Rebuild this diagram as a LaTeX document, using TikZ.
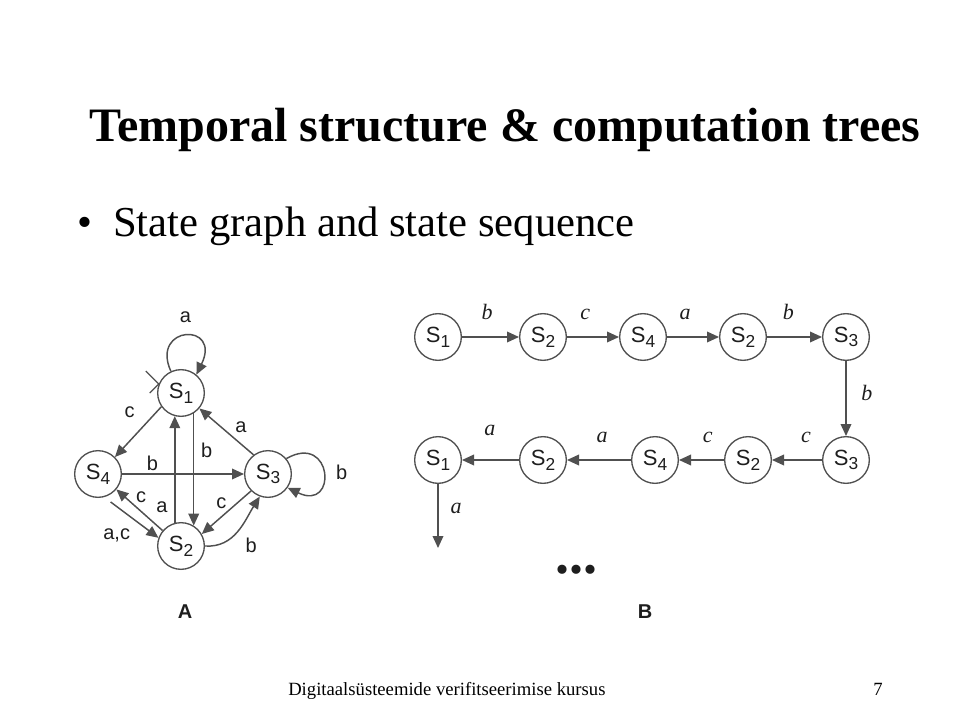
\documentclass[tikz,border=0pt]{standalone}
\usepackage{fontspec}
\setmainfont{Liberation Serif}
\setsansfont{Liberation Sans}
\usetikzlibrary{arrows.meta}
\definecolor{FIG1}{HTML}{505050}
\definecolor{FIG2}{HTML}{1E1E1E}
\newcommand{\stsub}[1]{S\raisebox{-3.5pt}{\fontsize{13}{13}\selectfont #1}}
\tikzstyle{state} = [circle, draw=FIG1, line width=1pt, minimum size=35pt, inner sep=0pt, text=FIG2, font=\sffamily\fontsize{16.5}{16.5}\selectfont]
\tikzstyle{lab} = [inner sep=1pt, text=FIG2, font=\sffamily\fontsize{15}{15}\selectfont]
\tikzstyle{ilab} = [inner sep=1pt, text=FIG2, font=\itshape\fontsize{16.5}{16.5}\selectfont]
\tikzstyle{arrow} = [line width=1.1pt, draw=FIG1, -{Triangle[length=9pt,width=8pt]}]

\begin{document}
\begin{tikzpicture}[x=0.75pt, y=-0.75pt]
\useasboundingbox (0,0) rectangle (960,720);

\node (title) [anchor=base, font=\bfseries\fontsize{36}{36}\selectfont] at (505,142) {Temporal structure \& computation trees};
\node (dot) [anchor=base west, inner sep=0pt, font=\fontsize{32}{32}\selectfont] at (77,237) {\textbullet};
\node (item) [anchor=base west, inner sep=0pt, font=\fontsize{32}{32}\selectfont] at (113,237) {State graph and state sequence};

% A: state graph
\node (a1) [state] at (181,393) {\stsub{1}};
\node (a4) [state] at (98,474) {\stsub{4}};
\node (a3) [state] at (268,474) {\stsub{3}};
\node (a2) [state] at (181,546) {\stsub{2}};

\draw [line width=1pt, draw=FIG1] (a1.158) ++(-13,-13) -- (a1.158) -- ++(-9,9);
\draw [arrow] (a1.115) .. controls (150,325) and (222,322) .. node[lab, above=8pt] {a} (a1.50);
\draw [arrow] (a1.215) -- node[lab, pos=.39, above left=5pt] {c} (a4.45);
\draw [arrow] (a2.105) -- node[lab, pos=.15, left=4pt] {a} (a1.255);
\draw [arrow] (a1.-58.5) -- node[lab, pos=.33, right=4pt] {b} (a2.58.5);
\draw [arrow] (a3.127) -- node[lab, pos=.4, above right=1pt] {a} (a1.-40);
\draw [arrow] (a4) -- node[lab, pos=.25, above=1pt] {b} (a3);
\draw [arrow] (a3.40) .. controls (333,432) and (338,512) .. node[lab, right=8pt] {b} (a3.-35);
\draw [arrow] (a2.140) -- node[lab, pos=.62, above right] {c} (a4.-40);
\draw [arrow, shorten <=6pt] (a4.-75) -- node[lab, pos=.6, below left=3.5pt] {a,c} (a2.160);
\draw [arrow] (a3.-135) -- node[lab, pos=.46, above left] {c} (a2.30);
\draw [arrow] (a2.east) .. controls (235,548) and (245,520) .. node[lab, below right=4pt] {b} (a3.-110);

\node (capa) [font=\sffamily\bfseries\fontsize{15}{15}\selectfont, text=FIG2] at (185,612) {A};

% B: state sequence
\node (b1) [state] at (438,337) {\stsub{1}};
\node (b2) [state] at (543,337) {\stsub{2}};
\node (b3) [state] at (643,337) {\stsub{4}};
\node (b4) [state] at (743,337) {\stsub{2}};
\node (b5) [state] at (846,337) {\stsub{3}};
\node (b6) [state] at (846,460) {\stsub{3}};
\node (b7) [state] at (748,460) {\stsub{2}};
\node (b8) [state] at (655,460) {\stsub{4}};
\node (b9) [state] at (543,460) {\stsub{2}};
\node (b10) [state] at (438,460) {\stsub{1}};
\coordinate (e1) at (438,548);

\draw [arrow] (b1) -- node[ilab, pos=.44, above=11.5pt] {b} (b2);
\draw [arrow] (b2) -- node[ilab, pos=.35, above=11.5pt] {c} (b3);
\draw [arrow] (b3) -- node[ilab, pos=.35, above=11.5pt] {a} (b4);
\draw [arrow] (b4) -- node[ilab, pos=.39, above=11.5pt] {b} (b5);
\draw [arrow] (b5) -- node[ilab, pos=.43, right=10pt] {b} (b6);
\draw [arrow] (b6) -- node[ilab, pos=.32, above=11.5pt] {c} (b7);
\draw [arrow] (b7) -- node[ilab, pos=.36, above=11.5pt] {c} (b8);
\draw [arrow] (b8) -- node[ilab, pos=.45, above=11.5pt] {a} (b9);
\draw [arrow] (b9) -- node[ilab, pos=.51, above=16.5pt] {a} (b10);
\draw [arrow] (b10) -- node[ilab, pos=.38, right=8pt] {a} (e1);

\node (more) [anchor=base, text=FIG2, font=\bfseries\fontsize{42}{42}\selectfont] at (576,573) {...};
\node (capb) [font=\sffamily\bfseries\fontsize{15}{15}\selectfont, text=FIG2] at (645,612) {B};

% footer
\node (foot) [anchor=base west, inner sep=0pt, font=\fontsize{14}{14}\selectfont] at (288,695) {Digitaalsüsteemide verifitseerimise kursus};
\node (page) [anchor=base west, inner sep=0pt, font=\fontsize{14}{14}\selectfont] at (873,695) {7};

\end{tikzpicture}
\end{document}
